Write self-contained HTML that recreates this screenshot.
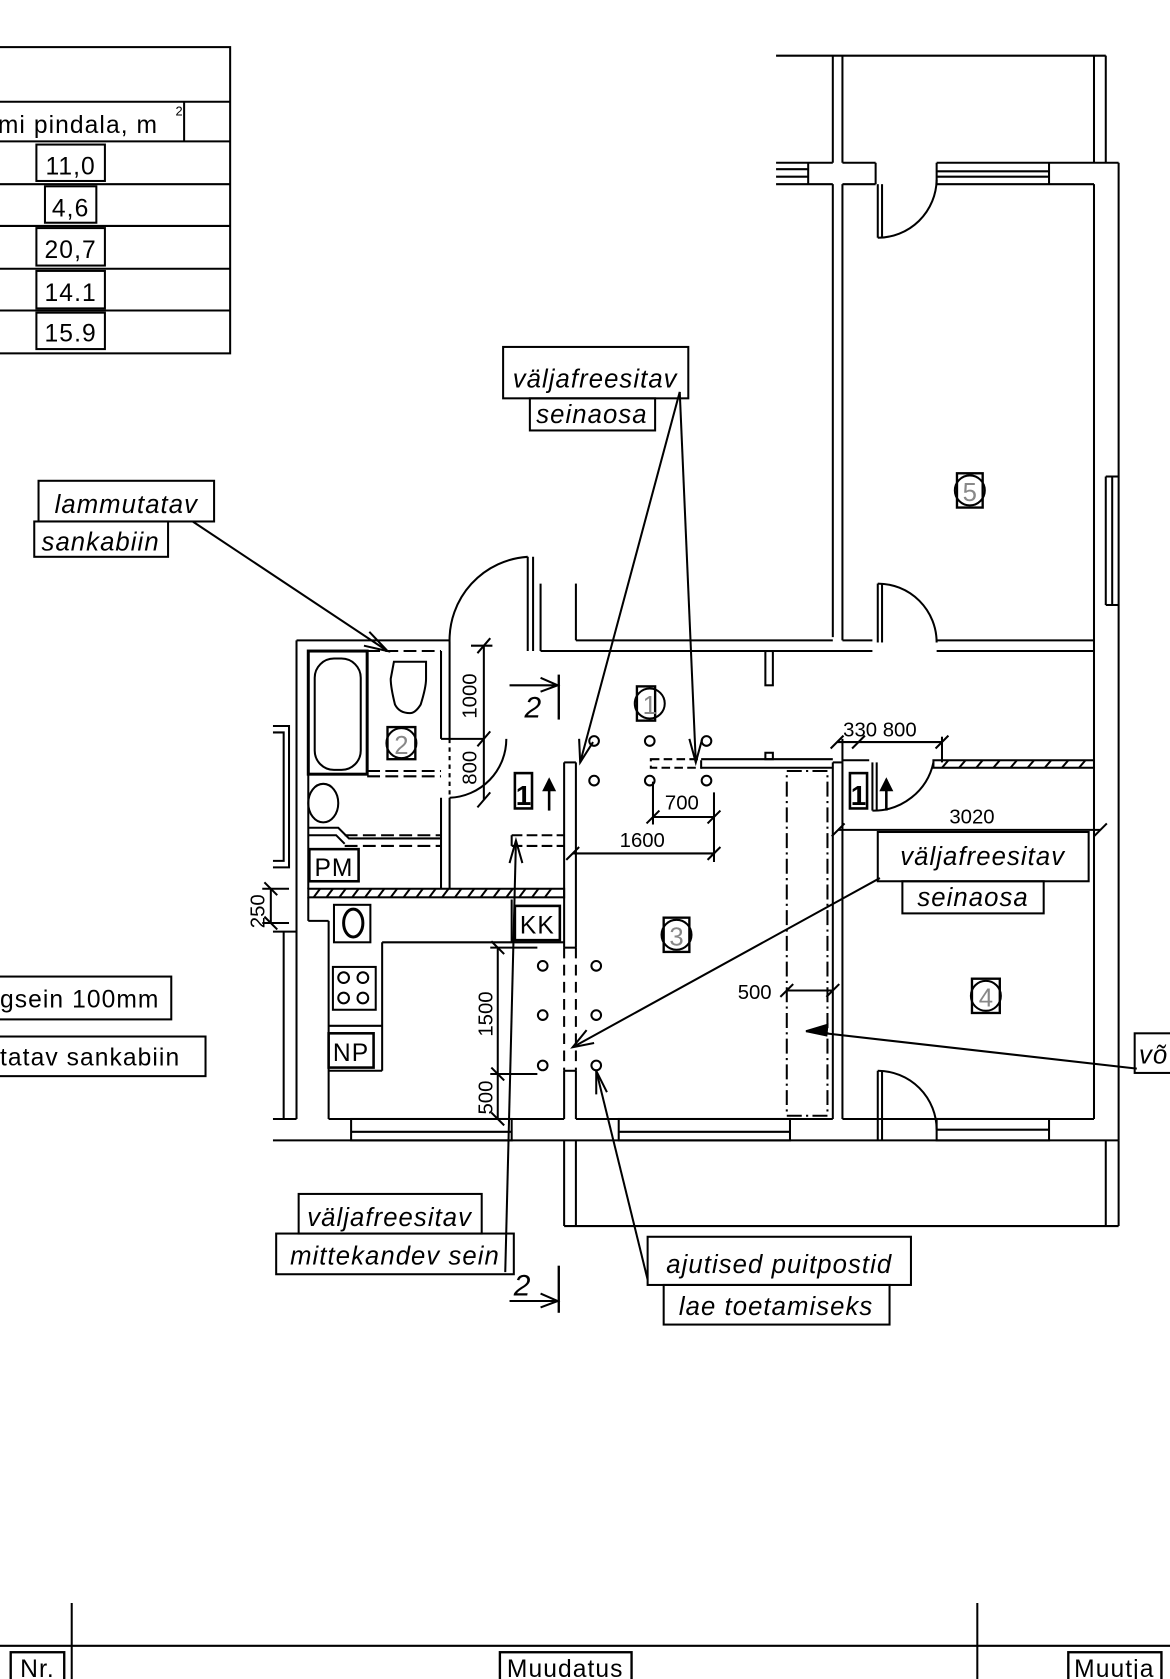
<!DOCTYPE html>
<html><head><meta charset="utf-8"><style>
html,body{margin:0;padding:0;background:#fff;}
svg{display:block;}
text{font-family:"Liberation Sans",sans-serif;fill:#000;}
.i{font-style:italic;font-size:24px;letter-spacing:1px;}
.d{font-size:19px;}
.t{font-size:23px;letter-spacing:1px;}
</style></head><body>
<svg width="1170" height="1679" viewBox="0 0 1093 1568" preserveAspectRatio="none" xmlns="http://www.w3.org/2000/svg">
<g fill="none" stroke="#000" stroke-width="1.9">
<!-- table -->
<rect x="-2" y="44" width="217" height="286"/>
<line x1="0" y1="95" x2="215" y2="95"/><line x1="0" y1="132" x2="215" y2="132"/>
<line x1="0" y1="172" x2="215" y2="172"/><line x1="0" y1="211" x2="215" y2="211"/>
<line x1="0" y1="251" x2="215" y2="251"/><line x1="0" y1="290" x2="215" y2="290"/>
<line x1="172" y1="95" x2="172" y2="132"/>
<rect x="34" y="135" width="64" height="34"/><rect x="42" y="174" width="48" height="34"/>
<rect x="34" y="213" width="64" height="35"/><rect x="34" y="253" width="64" height="35"/>
<rect x="34" y="292" width="64" height="34"/>

<!-- top block -->
<line x1="725" y1="52" x2="1033" y2="52"/>
<line x1="778" y1="52" x2="778" y2="152"/><line x1="787" y1="52" x2="787" y2="152"/>
<line x1="1022" y1="52" x2="1022" y2="152"/><line x1="1033" y1="52" x2="1033" y2="152"/>
<line x1="725" y1="152" x2="778" y2="152"/><line x1="725" y1="172" x2="778" y2="172"/>
<line x1="725" y1="158" x2="755" y2="158"/><line x1="725" y1="165" x2="755" y2="165"/>
<line x1="755" y1="152" x2="755" y2="172"/>
<line x1="787" y1="152" x2="818" y2="152"/><line x1="787" y1="172" x2="818" y2="172"/>
<line x1="818" y1="152" x2="818" y2="172"/><line x1="875" y1="152" x2="875" y2="172"/>
<line x1="875" y1="152" x2="1045" y2="152"/><line x1="875" y1="172" x2="1022" y2="172"/>
<line x1="875" y1="160" x2="980" y2="160"/><line x1="875" y1="165" x2="980" y2="165"/>
<line x1="980" y1="152" x2="980" y2="172"/>
<line x1="820" y1="172" x2="820" y2="222"/><line x1="824" y1="172" x2="824" y2="222"/>
<path d="M820 222 A55 55 0 0 0 875 168"/>
<!-- room 5 -->
<line x1="778" y1="172" x2="778" y2="595"/><line x1="787" y1="172" x2="787" y2="598"/>
<line x1="1022" y1="172" x2="1022" y2="1045"/><line x1="1045" y1="152" x2="1045" y2="1065"/>
<line x1="1033" y1="445" x2="1045" y2="445"/><line x1="1033" y1="565" x2="1045" y2="565"/>
<line x1="1033" y1="445" x2="1033" y2="565"/><line x1="1039" y1="445" x2="1039" y2="565"/>
<line x1="787" y1="598" x2="815" y2="598"/><line x1="875" y1="598" x2="1022" y2="598"/>
<line x1="820" y1="545" x2="820" y2="600"/><line x1="824" y1="545" x2="824" y2="600"/>
<path d="M820 545 A55 55 0 0 1 875 600"/>
<!-- top left room -->
<line x1="538" y1="545" x2="538" y2="598"/><line x1="538" y1="598" x2="778" y2="598"/>
<line x1="505" y1="608" x2="815" y2="608"/><line x1="875" y1="608" x2="1022" y2="608"/>
<line x1="498" y1="520" x2="498" y2="608"/><line x1="505" y1="545" x2="505" y2="608"/>
<line x1="493" y1="520" x2="493" y2="608"/>
<path d="M420 600 A78 78 0 0 1 493 520"/>
<rect x="715" y="608" width="7" height="32"/>
<rect x="715" y="703" width="7" height="6"/>
<!-- bathroom -->
<line x1="277" y1="598" x2="420" y2="598"/>
<line x1="277" y1="598" x2="277" y2="1045"/>
<rect x="288" y="608" width="55" height="115" stroke-width="2.8"/>
<rect x="294" y="615" width="43" height="104" rx="18"/>
<line x1="343" y1="608" x2="412" y2="608" stroke-dasharray="12 5"/>
<line x1="343" y1="720" x2="412" y2="720" stroke-dasharray="12 5"/><line x1="343" y1="725" x2="412" y2="725" stroke-dasharray="12 5"/>
<path d="M368 618 h30 v16 q0 8 -5 24 q-5 8 -10 8 q-10 0 -14 -8 q-4 -16 -4 -24 z"/>
<line x1="412" y1="608" x2="412" y2="690"/><line x1="420" y1="600" x2="420" y2="690"/>
<line x1="412" y1="690" x2="452" y2="690"/>
<line x1="412" y1="745" x2="412" y2="830"/><line x1="420" y1="745" x2="420" y2="830"/>
<line x1="420" y1="690" x2="420" y2="745" stroke-dasharray="4 4"/>
<path d="M420 745 A55 55 0 0 0 473 690"/>
<line x1="288" y1="723" x2="288" y2="830"/>
<ellipse cx="302" cy="750" rx="14" ry="18"/>
<path d="M288 773 h28 l10 10 h86" /><path d="M288 780 h26 l8 8" />
<line x1="322" y1="790" x2="412" y2="790" stroke-dasharray="12 5"/><line x1="322" y1="780" x2="412" y2="780" stroke-dasharray="12 5"/>
<rect x="289" y="793" width="46" height="30" stroke-width="2.4"/>
<!-- corridor hatched wall -->
<rect x="288" y="830" width="239" height="8"/>
<path d="M293 838 l6 -8 M305 838 l6 -8 M317 838 l6 -8 M329 838 l6 -8 M341 838 l6 -8 M353 838 l6 -8 M365 838 l6 -8 M377 838 l6 -8 M389 838 l6 -8 M401 838 l6 -8 M413 838 l6 -8 M425 838 l6 -8 M437 838 l6 -8 M449 838 l6 -8 M461 838 l6 -8 M473 838 l6 -8 M485 838 l6 -8 M497 838 l6 -8 M509 838 l6 -8"/>
<!-- kitchen -->
<line x1="288" y1="838" x2="288" y2="860"/><line x1="288" y1="860" x2="307" y2="860"/>
<line x1="307" y1="860" x2="307" y2="1045"/>
<rect x="312" y="845" width="34" height="35"/><ellipse cx="330" cy="862" rx="9" ry="13" stroke-width="2.8"/>
<line x1="357" y1="880" x2="527" y2="880"/><line x1="357" y1="880" x2="357" y2="1000"/>
<rect x="311" y="903" width="40" height="40"/>
<circle cx="321" cy="913" r="5"/><circle cx="339" cy="913" r="5"/><circle cx="321" cy="932" r="5"/><circle cx="339" cy="932" r="5"/>
<line x1="307" y1="958" x2="357" y2="958"/><line x1="307" y1="1000" x2="357" y2="1000"/>
<rect x="307" y="965" width="42" height="32" stroke-width="2.4"/>
<rect x="481" y="846" width="42" height="32" stroke-width="2.4"/>
<line x1="478" y1="840" x2="478" y2="880"/>
<line x1="478" y1="780" x2="527" y2="780" stroke-dasharray="10 4"/><line x1="478" y1="790" x2="527" y2="790" stroke-dasharray="10 4"/>
<line x1="478" y1="780" x2="478" y2="790"/>
<!-- left window / exterior -->
<path d="M255 678 h15 v132 h-15"/><path d="M255 684 h10 v120 h-10"/>
<line x1="265" y1="870" x2="265" y2="1045"/><line x1="255" y1="870" x2="277" y2="870"/>
<!-- bottom walls -->
<line x1="255" y1="1045" x2="277" y2="1045"/><line x1="307" y1="1045" x2="527" y2="1045"/>
<line x1="538" y1="1045" x2="778" y2="1045"/><line x1="787" y1="1045" x2="1022" y2="1045"/>
<line x1="255" y1="1065" x2="1045" y2="1065"/>
<rect x="328" y="1045" width="150" height="20"/><line x1="328" y1="1057" x2="478" y2="1057"/>
<rect x="578" y="1045" width="160" height="20"/><line x1="578" y1="1057" x2="738" y2="1057"/>
<rect x="875" y="1045" width="105" height="20"/><line x1="875" y1="1055" x2="980" y2="1055"/>
<line x1="820" y1="1000" x2="820" y2="1065"/><line x1="824" y1="1000" x2="824" y2="1065"/>
<path d="M820 1000 A55 55 0 0 1 875 1055"/>
<!-- balcony -->
<line x1="527" y1="1065" x2="527" y2="1145"/><line x1="538" y1="1065" x2="538" y2="1145"/>
<line x1="1033" y1="1065" x2="1033" y2="1145"/><line x1="1045" y1="1065" x2="1045" y2="1145"/>
<line x1="527" y1="1145" x2="1045" y2="1145"/>
<!-- central walls -->
<line x1="527" y1="712" x2="527" y2="885"/><line x1="538" y1="712" x2="538" y2="885"/>
<line x1="527" y1="1000" x2="527" y2="1045"/><line x1="538" y1="1000" x2="538" y2="1045"/>
<line x1="527" y1="712" x2="538" y2="712"/>
<line x1="527" y1="885" x2="538" y2="885" /><line x1="527" y1="1000" x2="538" y2="1000"/>
<line x1="527" y1="885" x2="527" y2="1000" stroke-dasharray="10 6"/><line x1="538" y1="885" x2="538" y2="1000" stroke-dasharray="10 6"/>
<rect x="608" y="709" width="47" height="8" stroke-dasharray="8 4"/>
<line x1="655" y1="709" x2="778" y2="709"/><line x1="655" y1="717" x2="778" y2="717"/>
<line x1="778" y1="712" x2="778" y2="1045"/><line x1="787" y1="712" x2="787" y2="1045"/>
<line x1="778" y1="712" x2="787" y2="712"/>
<rect x="735" y="720" width="38" height="322" stroke-dasharray="14 4 2 4"/>
<!-- room 4 top -->
<line x1="787" y1="710" x2="812" y2="710"/>
<rect x="872" y="710" width="150" height="7"/>
<path d="M880 717 l6 -7 M896 717 l6 -7 M912 717 l6 -7 M928 717 l6 -7 M944 717 l6 -7 M960 717 l6 -7 M976 717 l6 -7 M992 717 l6 -7 M1008 717 l6 -7"/>
<line x1="815" y1="712" x2="815" y2="757"/><line x1="819" y1="712" x2="819" y2="757"/>
<path d="M815 757 A57 57 0 0 0 872 712"/>
<!-- posts -->
<circle cx="555" cy="692" r="4.5"/><circle cx="607" cy="692" r="4.5"/><circle cx="660" cy="692" r="4.5"/>
<circle cx="555" cy="729" r="4.5"/><circle cx="607" cy="729" r="4.5"/><circle cx="660" cy="729" r="4.5"/>
<circle cx="507" cy="902" r="4.5"/><circle cx="557" cy="902" r="4.5"/>
<circle cx="507" cy="948" r="4.5"/><circle cx="557" cy="948" r="4.5"/>
<circle cx="507" cy="995" r="4.5"/><circle cx="557" cy="995" r="4.5"/>
<!-- room markers -->
<circle cx="607" cy="657" r="14"/><rect x="595" y="641" width="17" height="32" stroke-width="2.2"/>
<circle cx="375" cy="694" r="14"/><rect x="362" y="679" width="26" height="30" stroke-width="2.2"/>
<circle cx="632" cy="873" r="14"/><rect x="620" y="857" width="24" height="32" stroke-width="2.2"/>
<circle cx="921" cy="930" r="14"/><rect x="908" y="914" width="26" height="32" stroke-width="2.2"/>
<circle cx="906" cy="458" r="14"/><rect x="894" y="442" width="24" height="32" stroke-width="2.2"/>
<!-- section marks -->
<rect x="481" y="722" width="16" height="33" stroke-width="2.4"/>
<rect x="794" y="722" width="16" height="33" stroke-width="2.4"/>
<line x1="513" y1="757" x2="513" y2="728" stroke-width="2.4"/>
<line x1="828" y1="757" x2="828" y2="728" stroke-width="2.4"/>
<line x1="522" y1="630" x2="522" y2="672" stroke-width="2.2"/>
<path d="M476 640 h45 M505 633 l16 7 l-16 6"/>
<line x1="522" y1="1182" x2="522" y2="1226" stroke-width="2.2"/>
<path d="M476 1215 h45 M505 1208 l16 7 l-16 6"/>
<!-- dimensions -->
<line x1="452" y1="603" x2="452" y2="747"/><line x1="440" y1="603" x2="460" y2="603"/>
<path d="M446 610 l12 -14 M446 697 l12 -14 M446 754 l12 -14"/>
<line x1="535" y1="797" x2="668" y2="797"/><line x1="667" y1="740" x2="667" y2="805"/><line x1="610" y1="730" x2="610" y2="770"/>
<line x1="610" y1="763" x2="667" y2="763"/>
<path d="M529 803 l12 -12 M661 803 l12 -12 M604 769 l12 -12 M661 769 l12 -12"/>
<line x1="782" y1="693" x2="880" y2="693"/><path d="M776 699 l12 -12 M796 699 l12 -12 M874 699 l12 -12"/>
<line x1="787" y1="690" x2="787" y2="712"/><line x1="880" y1="688" x2="880" y2="712"/>
<line x1="783" y1="775" x2="1028" y2="775"/><path d="M777 781 l12 -12 M1022 781 l12 -12"/>
<line x1="735" y1="925" x2="778" y2="925"/><path d="M729 931 l12 -12 M772 931 l12 -12"/>
<line x1="465" y1="885" x2="465" y2="1045"/>
<line x1="458" y1="885" x2="502" y2="885"/><line x1="458" y1="1003" x2="502" y2="1003"/>
<path d="M459 879 l12 12 M459 997 l12 12 M459 1039 l12 12"/>
<line x1="253" y1="830" x2="253" y2="862"/><line x1="245" y1="830" x2="270" y2="830"/><line x1="245" y1="862" x2="270" y2="862"/>
<path d="M247 824 l12 12 M247 856 l12 12"/>
<!-- callout boxes -->
<rect x="36" y="449" width="164" height="38"/><rect x="32" y="487" width="125" height="33"/>
<rect x="470" y="324" width="173" height="48"/><rect x="495" y="372" width="117" height="30"/>
<rect x="820" y="777" width="197" height="46"/><rect x="843" y="823" width="132" height="30"/>
<rect x="279" y="1115" width="171" height="37"/><rect x="258" y="1152" width="222" height="38"/>
<rect x="605" y="1155" width="246" height="45"/><rect x="620" y="1200" width="211" height="37"/>
<rect x="-5" y="912" width="165" height="40"/><rect x="-5" y="968" width="197" height="37"/>
<rect x="1060" y="965" width="40" height="37"/>
<!-- leaders -->
<line x1="180" y1="487" x2="362" y2="608"/><path d="M345 590 l17 18 l-22 -5"/>
<line x1="635" y1="366" x2="542" y2="712"/><path d="M541 690 l1 22 l12 -19"/>
<line x1="635" y1="366" x2="650" y2="712"/><path d="M644 690 l6 22 l6 -22"/>
<line x1="822" y1="820" x2="535" y2="978"/><path d="M548 962 l-13 16 l20 -4"/>
<line x1="472" y1="1188" x2="482" y2="785"/><path d="M476 806 l6 -21 l6 21"/>
<line x1="605" y1="1195" x2="557" y2="1000"/><path d="M557 1022 l0 -22 l10 20"/>
<line x1="1062" y1="998" x2="753" y2="963"/><path d="M753 963 l20 -6 l-1 10 z" fill="#000"/>
<path d="M513 728 l-5 10 h10 z M828 728 l-5 10 h10 z" fill="#000"/>
<!-- title strip -->
<line x1="0" y1="1537" x2="1093" y2="1537"/>
<line x1="67" y1="1497" x2="67" y2="1568"/><line x1="913" y1="1497" x2="913" y2="1568"/>
<rect x="10" y="1543" width="50" height="30" stroke-width="2.2"/>
<rect x="467" y="1543" width="123" height="30" stroke-width="2.2"/>
<rect x="998" y="1543" width="87" height="30" stroke-width="2.2"/>
</g>
<!-- texts -->
<text x="-2" y="124" class="t">mi pindala, m</text><text x="164" y="108" font-size="12">2</text>
<text x="66" y="163" class="t" text-anchor="middle">11,0</text>
<text x="66" y="202" class="t" text-anchor="middle">4,6</text>
<text x="66" y="241" class="t" text-anchor="middle">20,7</text>
<text x="66" y="281" class="t" text-anchor="middle">14.1</text>
<text x="66" y="319" class="t" text-anchor="middle">15.9</text>
<text x="118" y="479" class="i" text-anchor="middle">lammutatav</text>
<text x="94" y="514" class="i" text-anchor="middle">sankabiin</text>
<text x="556" y="362" class="i" text-anchor="middle">väljafreesitav</text>
<text x="553" y="395" class="i" text-anchor="middle">seinaosa</text>
<text x="918" y="808" class="i" text-anchor="middle">väljafreesitav</text>
<text x="909" y="846" class="i" text-anchor="middle">seinaosa</text>
<text x="364" y="1145" class="i" text-anchor="middle">väljafreesitav</text>
<text x="369" y="1181" class="i" text-anchor="middle">mittekandev sein</text>
<text x="728" y="1189" class="i" text-anchor="middle">ajutised puitpostid</text>
<text x="725" y="1228" class="i" text-anchor="middle">lae toetamiseks</text>
<text x="0" y="941" class="t">gsein 100mm</text>
<text x="0" y="995" class="t">tatav sankabiin</text>
<text x="1064" y="993" class="i">võ</text>
<text x="312" y="818" class="t" text-anchor="middle">PM</text>
<text x="502" y="872" class="t" text-anchor="middle">KK</text>
<text x="328" y="991" class="t" text-anchor="middle">NP</text>
<text x="489" y="752" font-size="26" font-weight="bold" text-anchor="middle">1</text>
<text x="802" y="752" font-size="26" font-weight="bold" text-anchor="middle">1</text>
<text x="607" y="667" font-size="24" text-anchor="middle" style="fill:#888">1</text>
<text x="375" y="704" font-size="24" text-anchor="middle" style="fill:#888">2</text>
<text x="632" y="883" font-size="24" text-anchor="middle" style="fill:#888">3</text>
<text x="921" y="940" font-size="24" text-anchor="middle" style="fill:#888">4</text>
<text x="906" y="468" font-size="24" text-anchor="middle" style="fill:#888">5</text>
<text x="490" y="670" font-size="28" font-style="italic">2</text>
<text x="480" y="1210" font-size="28" font-style="italic">2</text>
<text class="d" transform="translate(445,650) rotate(-90)" text-anchor="middle">1000</text>
<text class="d" transform="translate(445,717) rotate(-90)" text-anchor="middle">800</text>
<text class="d" transform="translate(460,947) rotate(-90)" text-anchor="middle">1500</text>
<text class="d" transform="translate(460,1025) rotate(-90)" text-anchor="middle">500</text>
<text class="d" transform="translate(247,851) rotate(-90)" text-anchor="middle">250</text>
<text x="600" y="791" class="d" text-anchor="middle">1600</text>
<text x="637" y="756" class="d" text-anchor="middle">700</text>
<text x="822" y="688" class="d" text-anchor="middle">330 800</text>
<text x="908" y="769" class="d" text-anchor="middle">3020</text>
<text x="705" y="933" class="d" text-anchor="middle">500</text>
<text x="35" y="1566" class="t" text-anchor="middle">Nr.</text>
<text x="528" y="1566" class="t" text-anchor="middle">Muudatus</text>
<text x="1041" y="1566" class="t" text-anchor="middle">Muutja</text>
</svg>
</body></html>
